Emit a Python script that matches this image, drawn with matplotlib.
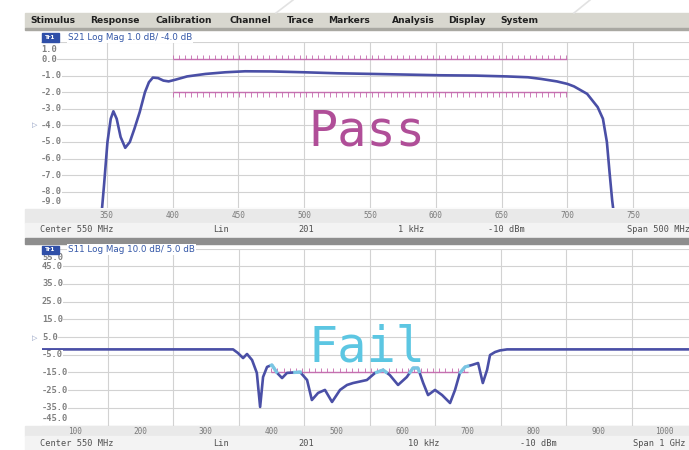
import numpy as np
import matplotlib.pyplot as plt
from matplotlib.patches import Rectangle
import matplotlib.transforms as mtransforms

# --- data ---
# top channel: S21, 1 dB/div, ref -4 dB, 300..800 MHz
s21_freq = [345.5, 348, 350.5, 353, 355, 357.5, 360.5, 364, 367.5, 371, 375, 379, 382,
            385, 389, 393, 397, 402, 411, 425, 440, 455, 475, 500, 525, 552, 578, 603,
            630, 654, 670, 680, 692, 700, 705, 715, 723, 727, 730, 732, 734, 736]
s21_db = [-9.8, -7.5, -5.0, -3.6, -3.15, -3.6, -4.7, -5.35, -5.0, -4.2, -3.2, -2.0, -1.4,
          -1.12, -1.15, -1.3, -1.35, -1.25, -1.05, -0.9, -0.8, -0.74, -0.75, -0.8, -0.86,
          -0.9, -0.94, -0.98, -1.0, -1.05, -1.1, -1.2, -1.35, -1.5, -1.65, -2.1, -2.9,
          -3.6, -5.0, -6.8, -8.5, -9.8]

# bottom channel: S11, 10 dB/div, ref 5 dB, 50..1050 MHz
s11_freq = [50, 341.7, 349, 357, 363, 370.7, 378, 383, 387.5, 393.6, 401, 409, 416.5, 424,
            444, 454.7, 462, 471.5, 482, 492.8, 505, 515.7, 525, 546, 558.5, 570.7, 581,
            593.6, 607, 616.5, 624, 632, 639.4, 650, 660.8, 673, 680.6, 688, 696, 706.6,
            715.8, 723, 729.5, 734, 741.7, 749, 760, 1050]
s11_db = [-2.0, -2.0, -4.0, -6.9, -4.6, -8.0, -15.3, -34.5, -17.6, -11.9, -10.8, -15.3,
          -18.2, -15.3, -14.8, -19.3, -30.6, -26.6, -24.9, -31.7, -24.9, -22.1, -21.0,
          -19.3, -15.3, -13.6, -16.5, -22.1, -17.6, -12.5, -12.5, -21.0, -27.8, -24.9,
          -27.8, -32.3, -24.9, -15.3, -11.9, -10.8, -9.7, -21.0, -13.6, -5.2, -3.5, -2.6,
          -2.0, -2.0]

top_xticks = [350, 400, 450, 500, 550, 600, 650, 700, 750]
bot_xticks = [100, 200, 300, 400, 500, 600, 700, 800, 900, 1000]
top_yticks = [1.0, 0.0, -1.0, -2.0, -3.0, -4.0, -5.0, -6.0, -7.0, -8.0, -9.0]
bot_yticks = [55.0, 45.0, 35.0, 25.0, 15.0, 5.0, -5.0, -15.0, -25.0, -35.0, -45.0]

top_limit_range = [400, 700]
top_upper_limit = 0.0
top_lower_limit = -2.0
bot_limit_range = [400, 700]
bot_upper_limit = -15.0

menu_items = ['Stimulus', 'Response', 'Calibration', 'Channel', 'Trace',
              'Markers', 'Analysis', 'Display', 'System']
menu_x = [30, 90, 155, 230, 287, 328, 392, 448, 500]

top_status = ['Center 550 MHz', 'Lin', '201', '1 kHz', '-10 dBm', 'Span 500 MHz']
bot_status = ['Center 550 MHz', 'Lin', '201', '10 kHz', '-10 dBm', 'Span 1 GHz']
top_status_x = [40, 213, 298, 398, 488, 627]
bot_status_x = [40, 213, 298, 408, 520, 633]

W, H = 689, 450
TRACE = '#4a4fa6'
LIMIT = '#c467ad'
GRID = '#d2d2d2'
LABEL = '#808080'


def fx(x):
    return x / W


def fy(y):
    return 1 - y / H


fig = plt.figure(figsize=(W / 100, H / 100), dpi=100)
fig.patch.set_facecolor('white')


def rect(x0, y0, x1, y1, color, z=-1):
    fig.patches.append(Rectangle((fx(x0), fy(y1)), (x1 - x0) / W, (y1 - y0) / H,
                                 transform=fig.transFigure, color=color, zorder=z))


# faint watermark strokes at the top
fig.add_artist(plt.Line2D([fx(276), fx(293)], [fy(13), fy(0)], color='#e2e2e2', lw=1.2))
fig.add_artist(plt.Line2D([fx(574), fx(590)], [fy(13), fy(0)], color='#e2e2e2', lw=1.2))

# menu bar
rect(25, 13, 689, 28, '#d8d7cf')
rect(25, 28, 689, 30, '#a9a8a2')
for name, x in zip(menu_items, menu_x):
    fig.text(fx(x), fy(20.5), name, fontsize=6.6, fontweight='bold', color='#202020',
             va='center', ha='left', family='DejaVu Sans')

# bands under each plot and separator
rect(25, 209, 689, 223, '#e9e9e9')
rect(25, 223, 689, 237, '#f3f3f3')
rect(25, 238, 689, 244, '#8e8e8e')
rect(25, 426, 689, 436, '#e9e9e9')
rect(25, 436, 689, 450, '#f3f3f3')


def setup(ax, xlim, ylim, xstep, ystep):
    ax.set_xlim(*xlim)
    ax.set_ylim(*ylim)
    ax.set_xticks(np.arange(xlim[0] + xstep, xlim[1] + 1, xstep))
    ax.set_yticks(np.arange(ylim[0], ylim[1] + ystep / 2, ystep))
    ax.tick_params(length=0, labelbottom=False, labelleft=False)
    ax.grid(True, color=GRID, lw=0.8)
    ax.set_axisbelow(True)
    for s in ax.spines.values():
        s.set_visible(False)
    ax.patch.set_alpha(0)


def ylabels(ax, ticks, step, top_shift, bot_shift):
    tr = ax.get_yaxis_transform()
    for v in ticks:
        pos = v
        if v == max(ticks):
            pos = v - top_shift * step
        elif v == min(ticks):
            pos = v + bot_shift * step
        ax.text(0.0, pos, f'{v:.1f}', transform=tr, ha='left', va='center',
                fontsize=6.3, fontweight='bold', color=LABEL, family='DejaVu Sans Mono',
                bbox=dict(facecolor='white', edgecolor='none', pad=0.1))


def xlabels(ax, ticks, ypx):
    tr = mtransforms.blended_transform_factory(ax.transData, fig.transFigure)
    for v in ticks:
        ax.text(v, fy(ypx), str(v), transform=tr, ha='center', va='center',
                fontsize=5.6, color='#7a7a7a', family='DejaVu Sans Mono')


def limit(ax, xr, level, tick_h, step):
    ax.hlines(level, xr[0], xr[1], color=LIMIT, lw=1.0, alpha=0.9)
    xs = np.arange(xr[0], xr[1] + 0.01, step)
    ax.vlines(xs, level, level + tick_h, color=LIMIT, lw=0.7, alpha=0.85)


def header(ytop, text):
    rect(42, ytop, 59, ytop + 8.5, '#2f4fa8', z=3)
    fig.text(fx(50.5), fy(ytop + 4.3), 'Tr1', fontsize=4.2, color='white',
             ha='center', va='center', fontweight='bold', zorder=4)
    fig.text(fx(68), fy(ytop + 4.3), text, fontsize=6.3, color='#3558a8',
             ha='left', va='center', family='DejaVu Sans', zorder=4,
             bbox=dict(facecolor='white', edgecolor='none', pad=0.6))


# ---- top panel ----
ax1 = fig.add_axes([fx(41), fy(208.4), 658 / W, 166 / H])
setup(ax1, (300, 800), (-9, 1), 50, 1)
ylabels(ax1, top_yticks, 1.0, 0.42, 0.42)
xlabels(ax1, top_xticks, 216)
limit(ax1, top_limit_range, top_upper_limit, 0.25, 4.6)
limit(ax1, top_limit_range, top_lower_limit, -0.3, 4.6)
ax1.plot(s21_freq, s21_db, color=TRACE, lw=1.9, solid_joinstyle='round')
header(33, 'S21 Log Mag 1.0 dB/ -4.0 dB')
fig.text(fx(32), fy(125), '\u25b7', fontsize=5, color='#8090b8', ha='left', va='center')
fig.text(fx(308), fy(145), 'Pass', fontsize=35, color='#b04e98',
         family='DejaVu Sans Mono', ha='left', va='baseline')

# ---- bottom panel ----
ax2 = fig.add_axes([fx(42), fy(425.5), 655 / W, 177 / H])
setup(ax2, (50, 1050), (-45, 55), 100, 10)
ylabels(ax2, bot_yticks, 10.0, 0.52, 0.42)
xlabels(ax2, bot_xticks, 431)
limit(ax2, bot_limit_range, bot_upper_limit, 2.5, 9.5)
ax2.plot(s11_freq, s11_db, color=TRACE, lw=1.9, solid_joinstyle='round')
# failing part of the trace, drawn over in cyan
ff = np.linspace(bot_limit_range[0], bot_limit_range[1], 600)
dd = np.interp(ff, s11_freq, s11_db)
ax2.plot(ff, np.where(dd > bot_upper_limit, dd, np.nan), color='#7fd3ea', lw=2.4, alpha=0.9)
header(245.5, 'S11 Log Mag 10.0 dB/ 5.0 dB')
fig.text(fx(32), fy(338), '\u25b7', fontsize=5, color='#8090b8', ha='left', va='center')
fig.text(fx(308), fy(362), 'Fail', fontsize=35, color='#5cc6e2',
         family='DejaVu Sans Mono', ha='left', va='baseline')

# status rows
for txt, x in zip(top_status, top_status_x):
    fig.text(fx(x), fy(230), txt, fontsize=6.2, color='#505050',
             family='DejaVu Sans Mono', ha='left', va='center')
for txt, x in zip(bot_status, bot_status_x):
    fig.text(fx(x), fy(444), txt, fontsize=6.2, color='#505050',
             family='DejaVu Sans Mono', ha='left', va='center')

fig.savefig('out.png', dpi=100)
